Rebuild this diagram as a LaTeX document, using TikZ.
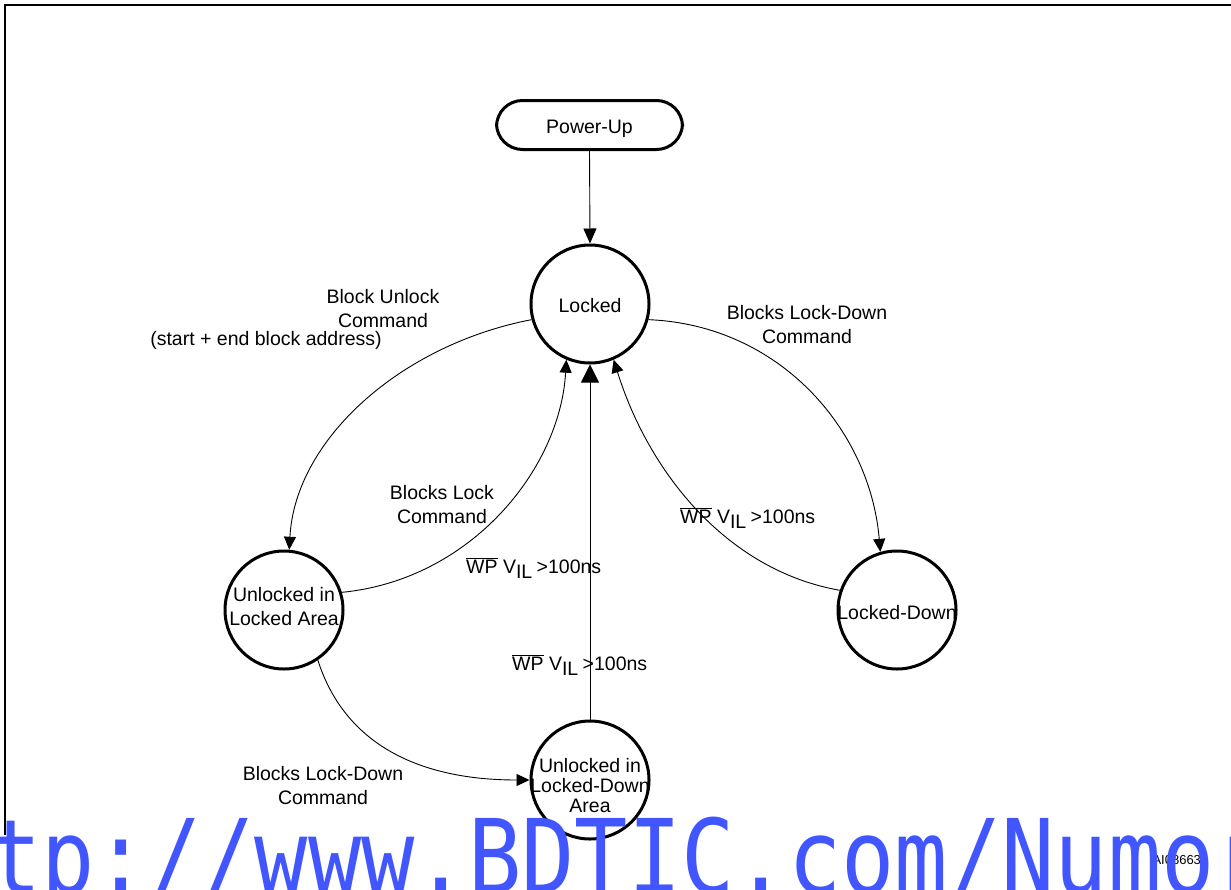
\documentclass[tikz,border=0pt]{standalone}
\usepackage{fontspec}
\usepackage{graphicx}
\setmainfont{Liberation Sans}
\newfontfamily\wmfont{DejaVu Sans Mono}
\usetikzlibrary{arrows.meta}
\definecolor{wmblue}{RGB}{66,86,255}
\newcommand{\wpvil}{$\overline{\hbox{WP}}$ V\raisebox{-5pt}{IL} \kern-1pt>100ns}
\begin{document}
\begin{tikzpicture}[x=1pt,y=-1pt,
  txt/.style={font=\fontsize{19.5}{24}\selectfont},
  state/.style={circle,draw,line width=3pt,minimum size=118pt,inner sep=0pt},
  lbl/.style={align=center,inner sep=0pt,txt},
  conn/.style={line width=0.9pt,-{Triangle[length=13pt,width=12pt]}},
  bigconn/.style={line width=0.9pt,-{Triangle[length=18pt,width=18pt]}},
]
\useasboundingbox (0,0) rectangle (1231,889);
\fill[white] (0,0) rectangle (1231,889);
% frame
\draw[line width=2.5pt] (5,835) -- (5,5) -- (1240,5);

% states
\node[draw,line width=3pt,rounded corners=26pt,minimum width=186pt,minimum height=49pt,inner sep=0pt] (pu) at (589.5,125) {};
\node[lbl] (put) at (589.5,129) {Power-Up};
\node[state] (locked) at (590,304) {};
\node[lbl] (lockedt) at (590,306) {Locked};
\node[state] (ulla) at (284,610) {};
\node[lbl] (ullat) at (284,607) {Unlocked in\\Locked Area};
\node[state] (ld) at (897,610) {};
\node[lbl] (ldt) at (897,613) {Locked-Down};
\node[state] (ulda) at (590,780) {};
\node[lbl,font=\fontsize{19.5}{20}\selectfont] (uldat) at (590,786) {Unlocked in\\Locked-Down\\Area};

% connectors
\draw[line width=0.9pt,-{Triangle[length=15pt,width=13pt]}] (pu.south) -- (locked.north);
\draw[conn] (locked.195) .. controls (400,345) and (295,440) .. (ulla.85);
\draw[conn] (ulla.17) .. controls (470,580) and (560,470) .. (locked.247);
\draw[conn] (ulla.304) .. controls (345,745) and (420,780) .. (ulda.west);
\draw[bigconn] (ulda.north) -- (locked.south);
\draw[conn] (locked.345) .. controls (780,325) and (870,430) .. (ld.106);
\draw[conn] (ld.161) .. controls (725,570) and (648,470) .. (locked.293);

% labels
\node[lbl] (l1) at (383,309) {Block Unlock\\Command};
\node[lbl] (l1b) at (266,340) {(start + end block address)};
\node[lbl] (l2) at (807,325) {Blocks Lock-Down\\Command};
\node[lbl] (l3) at (442,505) {Blocks Lock\\Command};
\node[lbl,anchor=base west] (w1) at (466,573) {\wpvil};
\node[lbl,anchor=base west] (w2) at (512,670) {\wpvil};
\node[lbl,anchor=base west] (w3) at (680,523) {\wpvil};
\node[lbl] (l4) at (323,786) {Blocks Lock-Down\\Command};
\node[inner sep=0pt,font=\fontsize{13}{15}\selectfont] (ai) at (1180,860) {AI08663c};

% watermark
\node[anchor=base west,inner sep=0pt,text=wmblue,font=\wmfont\fontsize{103}{103}\selectfont] (wm) at (-12,893) {\scalebox{0.86}[1]{tp://www.BDTIC.com/Numor}};
\end{tikzpicture}
\end{document}
